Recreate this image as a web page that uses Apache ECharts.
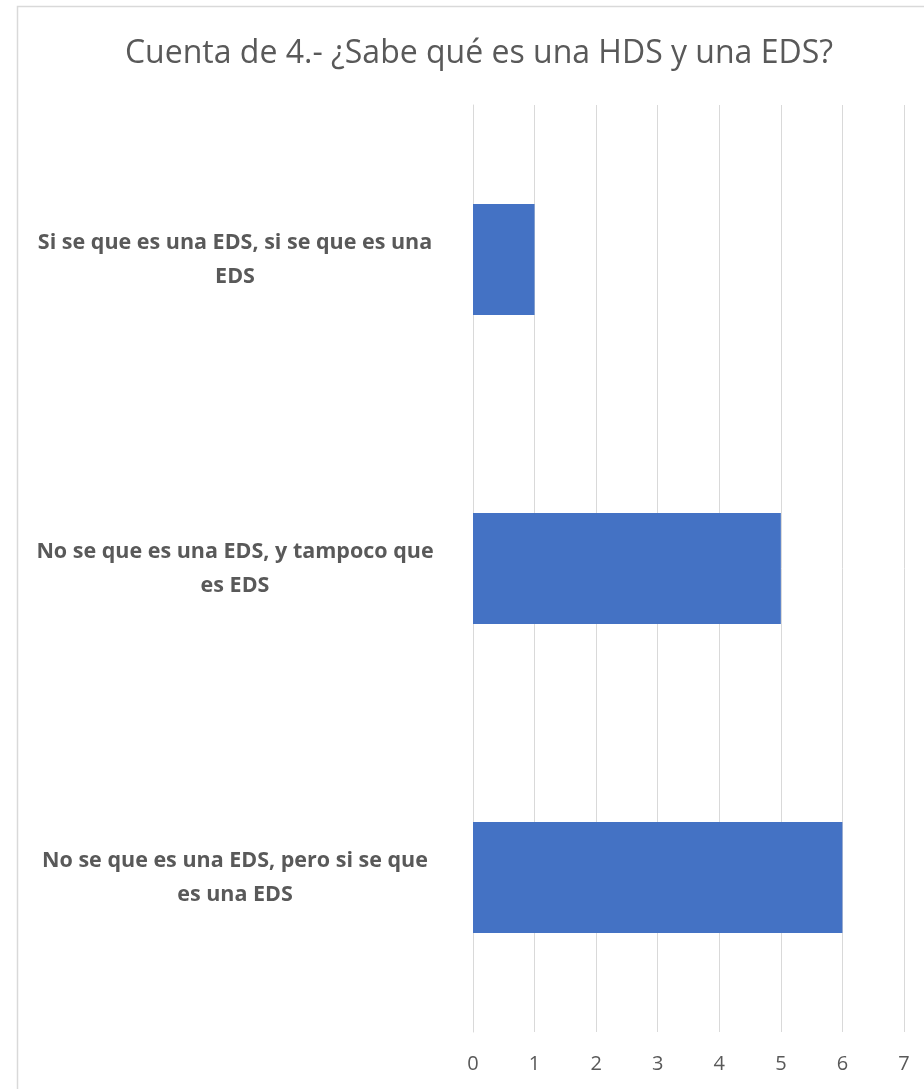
<!DOCTYPE html>
<html>
<head>
<meta charset="utf-8">
<script src="https://cdn.jsdelivr.net/npm/echarts@6/dist/echarts.min.js"></script>
<style>
  html, body { margin: 0; padding: 0; background: #ffffff; }
  #chart { width: 924px; height: 1089px; }
</style>
</head>
<body>
<div id="chart"></div>
<script>
// Survey answers, bottom-to-top order as the category axis draws them
const categories = [
  'No se que es una EDS, pero si se que\nes una EDS',
  'No se que es una EDS, y tampoco que\nes EDS',
  'Si se que es una EDS, si se que es una\nEDS'
];
const counts = [6, 5, 1];
const xTicks = [0, 1, 2, 3, 4, 5, 6, 7];

const chartTitle = 'Cuenta de 4.- ¿Sabe qué es una HDS y una EDS?';

const chart = echarts.init(document.getElementById('chart'), null, { renderer: 'canvas' });

chart.setOption({
  backgroundColor: '#ffffff',
  animation: false,
  title: {
    text: chartTitle,
    left: 474,
    top: 33,
    textAlign: 'center',
    textStyle: {
      fontFamily: 'Open Sans',
      fontWeight: 'normal',
      fontSize: 32,
      color: '#595959'
    }
  },
  graphic: [{
    type: 'rect',
    shape: { x: 17.5, y: 6.5, width: 1000, height: 1200 },
    style: { fill: 'none', stroke: '#d9d9d9', lineWidth: 1.5 },
    silent: true,
    z: -1
  }],
  grid: {
    left: 473,
    right: 20,
    top: 105,
    bottom: 57,
    containLabel: false
  },
  xAxis: {
    type: 'value',
    min: xTicks[0],
    max: xTicks[xTicks.length - 1],
    interval: 1,
    axisLine: { show: false },
    axisTick: { show: false },
    splitLine: { show: true, lineStyle: { color: '#d9d9d9', width: 1 } },
    axisLabel: {
      margin: 22,
      fontFamily: 'Open Sans',
      fontSize: 20,
      color: '#595959'
    }
  },
  yAxis: {
    type: 'category',
    data: categories,
    axisLine: { show: true, lineStyle: { color: '#d9d9d9', width: 1 } },
    axisTick: { show: false },
    axisLabel: {
      margin: 238,
      align: 'center',
      fontFamily: 'Open Sans',
      fontWeight: 'bold',
      fontSize: 21.5,
      lineHeight: 34,
      color: '#595959'
    }
  },
  series: [{
    type: 'bar',
    data: counts,
    barCategoryGap: '64%',
    itemStyle: { color: '#4472C4' }
  }]
});
</script>
</body>
</html>
